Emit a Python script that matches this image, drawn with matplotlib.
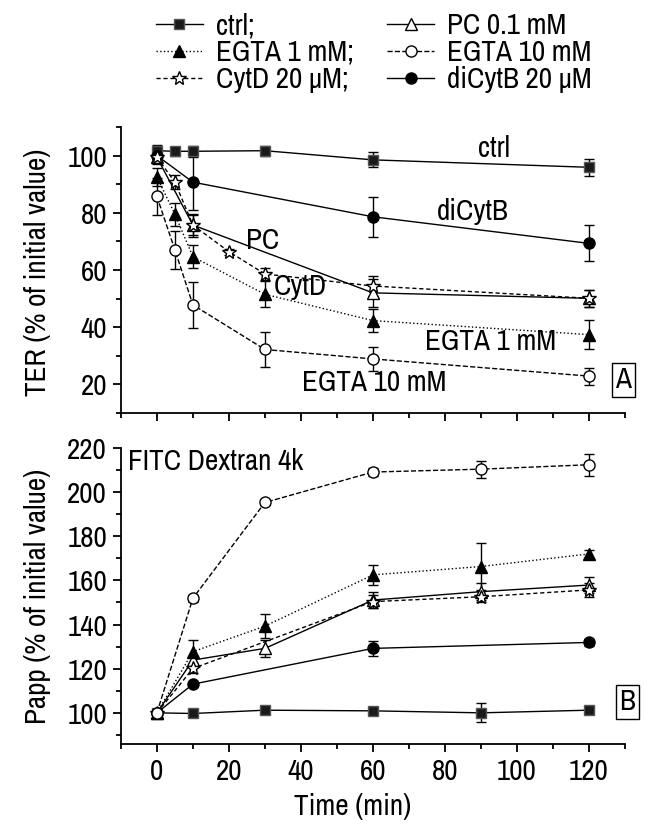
import matplotlib
matplotlib.use('Agg')
import matplotlib.pyplot as plt
from matplotlib import font_manager
from matplotlib.ticker import MultipleLocator

# pick a condensed sans (the original uses Arial Narrow look)
installed = {f.name for f in font_manager.fontManager.ttflist}
narrow = ['Liberation Sans Narrow', 'Arial Narrow', 'Archivo Narrow',
          'PT Sans Narrow', 'Roboto Condensed', 'Pragati Narrow',
          'IBM Plex Sans Condensed', 'Encode Sans Condensed']
found = [f for f in narrow if f in installed]
if found:
    plt.rcParams['font.family'] = [found[0], 'Liberation Sans', 'DejaVu Sans']
    FS = 21
else:
    plt.rcParams['font.family'] = ['Liberation Sans', 'DejaVu Sans']
    FS = 17
plt.rcParams['font.size'] = FS

# ---- Panel A: TER (% of initial value) ----
ter_ctrl_t = [0, 5, 10, 30, 60, 120]
ter_ctrl = [101.7, 101.5, 101.5, 101.7, 98.5, 95.9]
ter_ctrl_err = [2.0, 1.5, 2.0, 1.8, 2.6, 3.0]

ter_pc_t = [0, 10, 60, 120]
ter_pc = [99.4, 75.7, 52.0, 50.1]
ter_pc_err = [2.5, 4.0, 5.0, 3.0]

ter_egta1_t = [0, 5, 10, 30, 60, 120]
ter_egta1 = [92.5, 79.5, 64.6, 51.5, 42.3, 37.4]
ter_egta1_err = [3.0, 4.0, 4.0, 4.5, 4.0, 5.0]

ter_egta10_t = [0, 5, 10, 30, 60, 120]
ter_egta10 = [85.7, 67.0, 47.8, 32.2, 28.9, 22.9]
ter_egta10_err = [6.4, 6.5, 8.0, 6.2, 4.2, 3.0]

ter_cytd_t = [0, 5, 10, 20, 30, 60, 120]
ter_cytd = [99.4, 90.7, 75.7, 66.4, 58.6, 54.4, 50.1]
ter_cytd_err = [2.0, 2.5, 3.5, 1.0, 2.0, 3.5, 3.0]

ter_dicytb_t = [0, 10, 60, 120]
ter_dicytb = [100.0, 90.7, 78.6, 69.3]
ter_dicytb_err = [2.0, 9.8, 7.0, 6.3]

# ---- Panel B: Papp (% of initial value) ----
papp_ctrl_t = [0, 10, 30, 60, 90, 120]
papp_ctrl = [100.0, 99.7, 101.2, 100.9, 100.0, 101.2]
papp_ctrl_err = [1.0, 1.0, 1.0, 1.0, 4.3, 1.0]

papp_pc_t = [0, 10, 30, 60, 90, 120]
papp_pc = [100.0, 123.9, 129.2, 151.1, 154.9, 157.9]
papp_pc_err = [1.0, 2.0, 4.0, 3.5, 4.0, 3.5]

papp_egta1_t = [0, 10, 30, 60, 90, 120]
papp_egta1 = [100.0, 127.7, 139.3, 162.5, 166.3, 172.0]
papp_egta1_err = [1.0, 5.5, 5.4, 4.5, 10.6, 2.0]

papp_egta10_t = [0, 10, 30, 60, 90, 120]
papp_egta10 = [100.0, 151.9, 195.3, 209.1, 210.4, 212.4]
papp_egta10_err = [1.0, 1.5, 1.0, 2.0, 3.8, 5.0]

papp_cytd_t = [0, 10, 60, 90, 120]
papp_cytd = [100.0, 120.1, 150.4, 152.6, 155.7]
papp_cytd_err = [1.0, 2.0, 3.0, 2.5, 3.0]

papp_dicytb_t = [0, 10, 60, 120]
papp_dicytb = [100.0, 113.0, 129.2, 131.9]
papp_dicytb_err = [1.0, 1.0, 3.5, 1.5]

labels = ['ctrl;', 'EGTA 1 mM;', 'CytD 20 \u03bcM;',
          'PC 0.1 mM', 'EGTA 10 mM', 'diCytB 20 \u03bcM']

# line style / marker for each series
styles = {
    'ctrl': dict(ls='-', marker='s', mfc='#1a1a1a', mec='#555555', ms=7),
    'pc': dict(ls='-', marker='^', mfc='white', mec='black', ms=8.5),
    'egta1': dict(ls=':', marker='^', mfc='black', mec='black', ms=9),
    'egta10': dict(ls='--', marker='o', mfc='white', mec='black', ms=8),
    'cytd': dict(ls=(0, (3, 2)), marker='*', mfc='white', mec='black', ms=10.5),
    'dicytb': dict(ls='-', marker='o', mfc='black', mec='black', ms=8),
}


def draw(ax, t, y, err, key):
    st = styles[key]
    eb = ax.errorbar(t, y, yerr=err, color='black', lw=1.0, elinewidth=1.0,
                     capsize=3.5, capthick=1.0, marker=st['marker'],
                     ms=st['ms'], mfc=st['mfc'], mec=st['mec'], mew=1.0,
                     ls=st['ls'])
    return eb[0]


fig = plt.figure(figsize=(6.5, 8.25), dpi=100)
axA = fig.add_axes([0.186, 0.4994, 0.7755, 0.3467])
axB = fig.add_axes([0.186, 0.0985, 0.7755, 0.3585])

hA = {}
hA['ctrl'] = draw(axA, ter_ctrl_t, ter_ctrl, ter_ctrl_err, 'ctrl')
hA['dicytb'] = draw(axA, ter_dicytb_t, ter_dicytb, ter_dicytb_err, 'dicytb')
hA['pc'] = draw(axA, ter_pc_t, ter_pc, ter_pc_err, 'pc')
hA['cytd'] = draw(axA, ter_cytd_t, ter_cytd, ter_cytd_err, 'cytd')
hA['egta1'] = draw(axA, ter_egta1_t, ter_egta1, ter_egta1_err, 'egta1')
hA['egta10'] = draw(axA, ter_egta10_t, ter_egta10, ter_egta10_err, 'egta10')

draw(axB, papp_ctrl_t, papp_ctrl, papp_ctrl_err, 'ctrl')
draw(axB, papp_dicytb_t, papp_dicytb, papp_dicytb_err, 'dicytb')
draw(axB, papp_pc_t, papp_pc, papp_pc_err, 'pc')
draw(axB, papp_cytd_t, papp_cytd, papp_cytd_err, 'cytd')
draw(axB, papp_egta1_t, papp_egta1, papp_egta1_err, 'egta1')
draw(axB, papp_egta10_t, papp_egta10, papp_egta10_err, 'egta10')

for ax in (axA, axB):
    ax.spines['top'].set_visible(False)
    ax.spines['right'].set_visible(False)
    ax.spines['left'].set_linewidth(1.3)
    ax.spines['bottom'].set_linewidth(1.3)
    ax.set_xlim(-10, 130)
    ax.xaxis.set_major_locator(MultipleLocator(20))
    ax.xaxis.set_minor_locator(MultipleLocator(10))
    ax.tick_params(which='major', direction='out', length=6, width=1.3,
                   labelsize=FS, pad=4)
    ax.tick_params(which='minor', direction='out', length=3.5, width=1.3)

axA.set_ylim(10, 110)
axA.yaxis.set_major_locator(MultipleLocator(20))
axA.yaxis.set_minor_locator(MultipleLocator(10))
axA.tick_params(axis='x', labelbottom=False)

axB.set_ylim(86, 220)
axB.yaxis.set_major_locator(MultipleLocator(20))
axB.yaxis.set_minor_locator(MultipleLocator(10))

fig.text(38 / 650, 1 - 272 / 825, 'TER (% of initial value)', rotation=90,
         ha='center', va='center', fontsize=FS)
fig.text(38 / 650, 1 - 596 / 825, 'Papp (% of initial value)', rotation=90,
         ha='center', va='center', fontsize=FS)
fig.text(353 / 650, 1 - 806 / 825, 'Time (min)', ha='center', va='center',
         fontsize=FS)

# in-plot annotations
axA.text(93.6, 102.4, 'ctrl', ha='center', va='center', fontsize=FS)
axA.text(87.7, 80.3, 'diCytB', ha='center', va='center', fontsize=FS)
axA.text(29.5, 70.4, 'PC', ha='center', va='center', fontsize=FS)
axA.text(39.8, 54.2, 'CytD', ha='center', va='center', fontsize=FS)
axA.text(92.8, 35.0, 'EGTA 1 mM', ha='center', va='center', fontsize=FS)
axA.text(60.4, 20.7, 'EGTA 10 mM', ha='center', va='center', fontsize=FS)
axA.text(129.5, 21.7, 'A', ha='center', va='center', fontsize=FS,
         clip_on=False,
         bbox=dict(boxstyle='square,pad=0.12', fc='white', ec='black', lw=1))
axB.text(130.7, 105, 'B', ha='center', va='center', fontsize=FS,
         clip_on=False,
         bbox=dict(boxstyle='square,pad=0.12', fc='white', ec='black', lw=1))
axB.text(-8.1, 213.9, 'FITC Dextran 4k', ha='left', va='center', fontsize=FS)

order = ['ctrl', 'egta1', 'cytd', 'pc', 'egta10', 'dicytb']
fig.legend([hA[k] for k in order], labels, ncol=2, loc='upper left',
           bbox_to_anchor=(156 / 650, 1 - 12 / 825), frameon=False,
           fontsize=FS, handlelength=1.6, handletextpad=0.45,
           columnspacing=1.15, labelspacing=0.0, borderpad=0,
           borderaxespad=0)

fig.savefig('out.png', dpi=100)
